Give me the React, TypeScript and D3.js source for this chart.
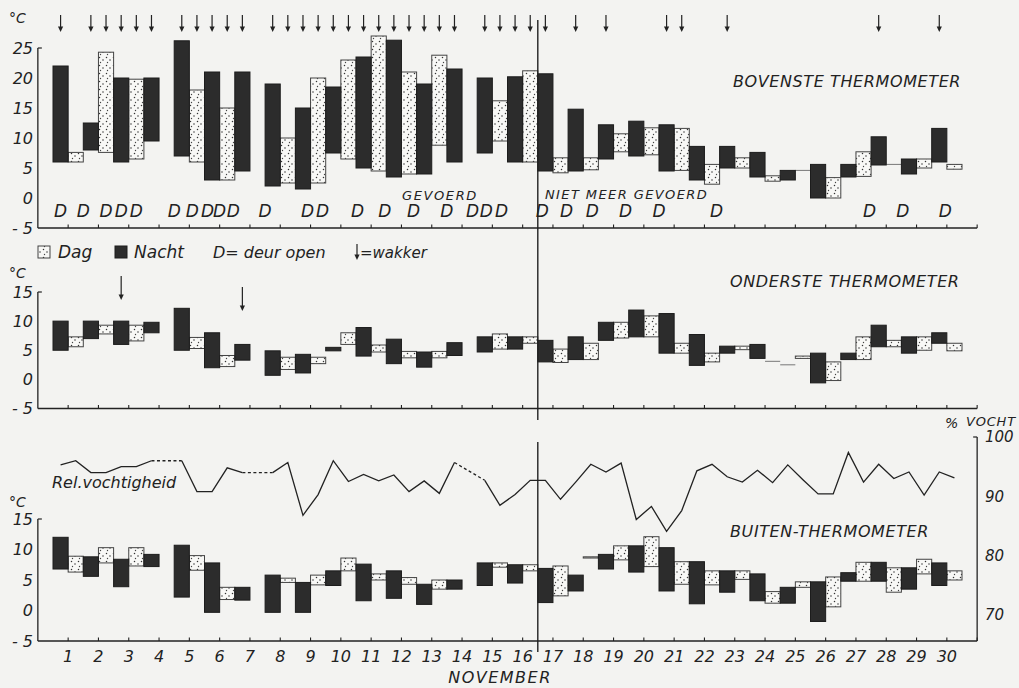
import React, { useEffect } from "react";
import * as d3 from "d3";

// dagen van november; elke dag heeft een nacht- en een dagwaarneming
const days = d3.range(1, 31);

// BOVENSTE THERMOMETER, [min, max] in °C, null = geen waarneming
const bovensteNacht = [
  [6, 22], [8, 12.5], [6, 20], [9.5, 20], [7, 26.2], [3, 21], [4.5, 21], [2, 19], [1.5, 15], [7.5, 18.5],
  [5, 23.5], [3.5, 26.3], [4, 19], [6, 21.5], [7.5, 20], [6, 20.2], [4.5, 20.7], [4.5, 14.8], [6.5, 12.2], [7, 12.8],
  [4.5, 12.2], [3, 8.6], [5, 8.6], [3.5, 7.6], [3, 4.6], [0, 5.6], [3.5, 5.6], [5.5, 10.2], [4, 6.5], [6, 11.6],
];
const bovensteDag = [
  [6, 7.6], [7.6, 24.3], [6.5, 19.8], null, [6, 18], [3, 15], null, [2.5, 10], [2.5, 20], [6.5, 23],
  [4.5, 27], [4, 21], [8.8, 23.8], null, [9.5, 16.2], [6, 21.2], [4.2, 6.7], [4.7, 6.7], [7.7, 10.7], [7.2, 11.7],
  [4.6, 11.6], [2.3, 5.6], [5, 6.7], [2.8, 3.7], [4.6, 4.6], [0, 3.4], [3.6, 7.7], [5.6, 5.6], [5, 6.5], [4.8, 5.6],
];

// ONDERSTE THERMOMETER
const ondersteNacht = [
  [5, 10], [7, 10], [6, 10], [8, 9.8], [5, 12.2], [2, 8], [3.3, 6], [0.7, 4.9], [1.1, 4.3], [4.9, 5.5],
  [4, 8.9], [2.7, 6.9], [2.1, 4.7], [4.1, 6.3], [4.7, 7.3], [5.2, 7.3], [3, 6.7], [3.4, 7.3], [6.7, 9.8], [7.3, 11.9],
  [4.5, 11.3], [2.4, 7.7], [4.5, 5.7], [3.6, 6], [2.5, 2.5], [-0.6, 4.5], [3.4, 4.5], [5.6, 9.3], [4.5, 7.3], [6.2, 8],
];
const ondersteDag = [
  [5.6, 7.3], [7.8, 9.3], [6.6, 9.3], null, [5.3, 7.2], [2.2, 4.1], null, [1.7, 3.8], [2.7, 3.8], [6, 8],
  [4.7, 5.9], [3.7, 4.8], [3.7, 4.8], null, [5.2, 7.8], [6.2, 7.3], [2.9, 5.2], [3.4, 6.2], [7.1, 9.8], [7.3, 10.9],
  [4.5, 6.2], [3, 4.5], [5.1, 5.7], [3.1, 3.1], [3.6, 4], [-0.2, 3], [3.4, 7.3], [5.6, 6.7], [5, 7.3], [4.9, 6.2],
];

// BUITEN-THERMOMETER
const buitenNacht = [
  [6.8, 12], [5.6, 8.8], [3.9, 8.4], [7.2, 9.2], [2.2, 10.7], [-0.3, 7.8], [1.7, 3.8], [-0.3, 5.8], [-0.3, 4.6], [4.1, 6.5],
  [1.6, 7.6], [2, 6.5], [1, 4.3], [3.5, 5], [4.1, 7.8], [4.5, 7.5], [1.3, 6.9], [3.2, 5.8], [6.8, 9.2], [6.3, 10.6],
  [3.2, 10.3], [1.1, 8], [3, 6.5], [1.6, 6], [1.2, 3.8], [-1.8, 4.7], [4.8, 6.2], [4.8, 7.9], [3.5, 7], [4.1, 7.8],
];
const buitenDag = [
  [6.3, 8.9], [7.8, 10.3], [7.3, 10.3], null, [6.6, 9], [1.8, 3.8], null, [4.6, 5.3], [4.2, 5.8], [6.5, 8.6],
  [5, 6], [4.3, 5.4], [3.5, 5], null, [7.1, 7.8], [6.5, 7.5], [2.4, 7.3], [8.6, 8.8], [8.3, 10.6], [7.2, 12.1],
  [4.3, 8], [4.2, 6.5], [5.1, 6.5], [1.2, 3.1], [3.8, 4.7], [0.6, 5.5], [4.8, 7.9], [3, 7], [6, 8.4], [5, 6.5],
];

// relatieve vochtigheid (%), per halve dag (nacht, dag, nacht, ...)
const vochtigheid = [
  95.3, 96, 94, 94, 95, 95, 96, null, 96, 90.8,
  90.8, 94.8, 94, null, 94, 95.7, 86.8, 90.3, 96, 92.5,
  93.7, 92.6, 93.6, 90.8, 92.6, 90.5, 95.7, null, 92.7, 88.5,
  90.3, 92.7, 92.7, 89.5, 92.4, 95.4, 94.1, 95.6, 86.1, 88.3,
  84.1, 87.6, 94.3, 95.4, 93.3, 92.4, 94.4, 92.3, 95.3, 92.8,
  90.4, 90.4, 97.4, 92.4, 95.4, 93, 94.1, 90.2, 94.1, 93.1,
];

// halve-dag posities met "wakker" en "deur open"
const wakkerBoven = [0, 2, 3, 4, 5, 6, 8, 9, 10, 11, 12, 14, 15, 16, 17, 18, 19, 20, 21, 22, 23, 24, 25, 26, 28, 29, 30, 31, 32, 34, 36, 40, 41, 44, 54, 58];
const wakkerOnder = [4, 12];
const deurOpen = [0, 1.5, 3, 4, 5, 7.5, 8.7, 9.7, 10.5, 11.4, 13.5, 16.3, 17.3, 19.6, 21.4, 23.3, 25.5, 27.2, 28.1, 29.1, 31.8, 33.4, 35.1, 37.3, 39.5, 43.3, 53.4, 55.6, 58.4];

const ticksBoven = [25, 20, 15, 10, 5, 0, -5];
const ticksOnder = [15, 10, 5, 0, -5];
const ticksVocht = [100, 90, 80, 70];

const INK = "#222";
const FONT = "'DejaVu Sans', sans-serif";

const slotX = d3.scaleLinear().domain([0, 60]).range([53, 962]);
const slotW = slotX(1) - slotX(0);
const dayTick = (d: number) => slotX(2 * d - 1);

const yBoven = d3.scaleLinear().domain([-5, 25]).range([228, 48]);
const yOnder = d3.scaleLinear().domain([-5, 15]).range([408.5, 292]);
const yBuiten = d3.scaleLinear().domain([-5, 15]).range([641, 519]);
const yVocht = d3.scaleLinear().domain([70, 100]).range([615, 437]);

const Arrow = ({ x, y1, y2 }: { x: number; y1: number; y2: number }) => (
  <g>
    <line x1={x} x2={x} y1={y1} y2={y2 - 3} stroke={INK} strokeWidth={1.2} />
    <path d={`M${x - 2.6},${y2 - 5.5}L${x + 2.6},${y2 - 5.5}L${x},${y2}Z`} fill={INK} />
  </g>
);

function Bars({ nacht, dag, y }: { nacht: any[]; dag: any[]; y: d3.ScaleLinear<number, number> }) {
  const bar = (v: number[] | null, slot: number, dark: boolean) => {
    if (!v) return null;
    const [lo, hi] = v;
    const x = slotX(slot);
    if (hi - lo < 0.05) {
      return <line key={slot} x1={x} x2={x + slotW} y1={y(hi)} y2={y(hi)} stroke="#777" strokeWidth={1} />;
    }
    return (
      <rect key={slot} x={x} y={y(hi)} width={slotW} height={y(lo) - y(hi)}
        fill={dark ? "#2c2c2c" : "url(#stip)"} stroke={dark ? "#1c1c1c" : "#444"} strokeWidth={1} />
    );
  };
  return (
    <g>
      {days.map((d, i) => bar(dag[i], 2 * i + 1, false))}
      {days.map((d, i) => bar(nacht[i], 2 * i, true))}
    </g>
  );
}

function Axes({ y, ticks, labelY }: { y: d3.ScaleLinear<number, number>; ticks: number[]; labelY: number }) {
  const bottom = y(-5);
  const top = y(ticks[0]);
  return (
    <g>
      <line x1={slotX(-1)} x2={slotX(-1)} y1={top} y2={bottom} stroke={INK} strokeWidth={1.3} />
      <line x1={slotX(-1)} x2={slotX(-1) + 4} y1={top} y2={top} stroke={INK} strokeWidth={1.2} />
      <line x1={slotX(-1)} x2={slotX(61)} y1={bottom} y2={bottom} stroke={INK} strokeWidth={1.3} />
      {d3.range(1, 32).map((d) => (
        <line key={d} x1={dayTick(d)} x2={dayTick(d)} y1={bottom} y2={bottom - 3.5} stroke={INK} strokeWidth={1.1} />
      ))}
      {ticks.map((t) => (
        <text key={t} x={33} y={y(t)} dy="0.36em" textAnchor="end" fontSize={16} fontStyle="italic" fill={INK}>
          {t < 0 ? `- ${-t}` : t}
        </text>
      ))}
      <text x={9} y={labelY} fontSize={14} fontStyle="italic" fill={INK}>°C</text>
    </g>
  );
}

export default function App() {
  useEffect(() => {
    document.body.style.margin = "0";
  }, []);

  const pts = vochtigheid.map((v, i) => ({ i, v }));
  const solid = d3.line<{ i: number; v: number | null }>()
    .defined((d) => d.v != null)
    .x((d) => slotX(d.i + 0.5))
    .y((d) => yVocht(d.v as number));
  const gaps: [number, number][] = [];
  let prev = -1;
  vochtigheid.forEach((v, i) => {
    if (v == null) return;
    if (prev >= 0 && i - prev > 1) gaps.push([prev, i]);
    prev = i;
  });

  const divider = slotX(32);

  return (
    <svg width={1019} height={688} style={{ display: "block", fontFamily: FONT }}>
      <defs>
        <pattern id="stip" width={7} height={8} patternUnits="userSpaceOnUse">
          <rect width={7} height={8} fill="#f8f8f6" />
          <circle cx={1.5} cy={1.5} r={0.75} fill="#333" />
          <circle cx={5} cy={4} r={0.75} fill="#333" />
          <circle cx={2.5} cy={6.5} r={0.7} fill="#444" />
        </pattern>
      </defs>
      <rect width={1019} height={688} fill="#f3f3f1" />

      {/* BOVENSTE THERMOMETER */}
      <Axes y={yBoven} ticks={ticksBoven} labelY={23} />
      <Bars nacht={bovensteNacht} dag={bovensteDag} y={yBoven} />
      {wakkerBoven.map((s) => <Arrow key={s} x={slotX(s + 0.5)} y1={15} y2={32} />)}
      {deurOpen.map((s, k) => (
        <text key={k} x={slotX(s + 0.5)} y={217} textAnchor="middle" fontSize={17} fontStyle="italic" fill={INK}>D</text>
      ))}
      <text x={733} y={87} fontSize={16} fontStyle="italic" letterSpacing={0.6} fill={INK}>BOVENSTE THERMOMETER</text>
      <text x={402} y={200} fontSize={13} fontStyle="italic" letterSpacing={1.6} fill={INK}>GEVOERD</text>
      <text x={545} y={199} fontSize={13} fontStyle="italic" letterSpacing={1.4} fill={INK}>NIET MEER GEVOERD</text>

      {/* legenda */}
      <rect x={38} y={246} width={12} height={12} fill="url(#stip)" stroke="#444" />
      <text x={58} y={258} fontSize={17} fontStyle="italic" fill={INK}>Dag</text>
      <rect x={115} y={246} width={12} height={12} fill="#2c2c2c" stroke="#1c1c1c" />
      <text x={134} y={258} fontSize={17} fontStyle="italic" fill={INK}>Nacht</text>
      <text x={213} y={258} fontSize={16} fontStyle="italic" fill={INK}>D= deur open</text>
      <Arrow x={357} y1={244} y2={260} />
      <text x={360} y={258} fontSize={15} fontStyle="italic" fill={INK}>=wakker</text>

      {/* ONDERSTE THERMOMETER */}
      <Axes y={yOnder} ticks={ticksOnder} labelY={278} />
      <Bars nacht={ondersteNacht} dag={ondersteDag} y={yOnder} />
      {wakkerOnder.map((s, k) => <Arrow key={s} x={slotX(s + 0.5)} y1={276 + k * 11} y2={300 + k * 11} />)}
      <text x={730} y={287} fontSize={16} fontStyle="italic" letterSpacing={0.6} fill={INK}>ONDERSTE THERMOMETER</text>

      {/* vochtigheid */}
      <line x1={slotX(61)} x2={slotX(61)} y1={yVocht(100)} y2={yBuiten(-5)} stroke={INK} strokeWidth={1.3} />
      <line x1={slotX(61) - 4} x2={slotX(61)} y1={yVocht(100)} y2={yVocht(100)} stroke={INK} strokeWidth={1.2} />
      {ticksVocht.map((t) => (
        <text key={t} x={985} y={yVocht(t)} dy="0.36em" fontSize={15} fontStyle="italic" fill={INK}>{t}</text>
      ))}
      <text x={945} y={428} fontSize={14} fontStyle="italic" fill={INK}>%</text>
      <text x={966} y={426} fontSize={13} fontStyle="italic" letterSpacing={0.8} fill={INK}>VOCHT</text>
      <path d={solid(pts) || ""} fill="none" stroke={INK} strokeWidth={1.3} strokeLinejoin="miter" />
      {gaps.map(([a, b]) => (
        <line key={a} x1={slotX(a + 0.5)} x2={slotX(b + 0.5)} y1={yVocht(vochtigheid[a] as number)} y2={yVocht(vochtigheid[b] as number)}
          stroke={INK} strokeWidth={1.3} strokeDasharray="3,2.5" />
      ))}
      <text x={52} y={488} fontSize={16} fontStyle="italic" fill={INK}>Rel.vochtigheid</text>

      {/* BUITEN-THERMOMETER */}
      <Axes y={yBuiten} ticks={ticksOnder} labelY={507} />
      <Bars nacht={buitenNacht} dag={buitenDag} y={yBuiten} />
      <text x={730} y={537} fontSize={16} fontStyle="italic" letterSpacing={0.6} fill={INK}>BUITEN-THERMOMETER</text>

      {days.map((d) => (
        <text key={d} x={dayTick(d)} y={662} textAnchor="middle" fontSize={16} fontStyle="italic" fill={INK}>{d}</text>
      ))}
      <text x={500} y={683} textAnchor="middle" fontSize={16} fontStyle="italic" letterSpacing={1.5} fill={INK}>NOVEMBER</text>

      {/* scheiding gevoerd / niet meer gevoerd */}
      <line x1={divider} x2={divider} y1={20} y2={420} stroke={INK} strokeWidth={1.4} />
      <line x1={divider} x2={divider} y1={442} y2={652} stroke={INK} strokeWidth={1.4} />
    </svg>
  );
}
